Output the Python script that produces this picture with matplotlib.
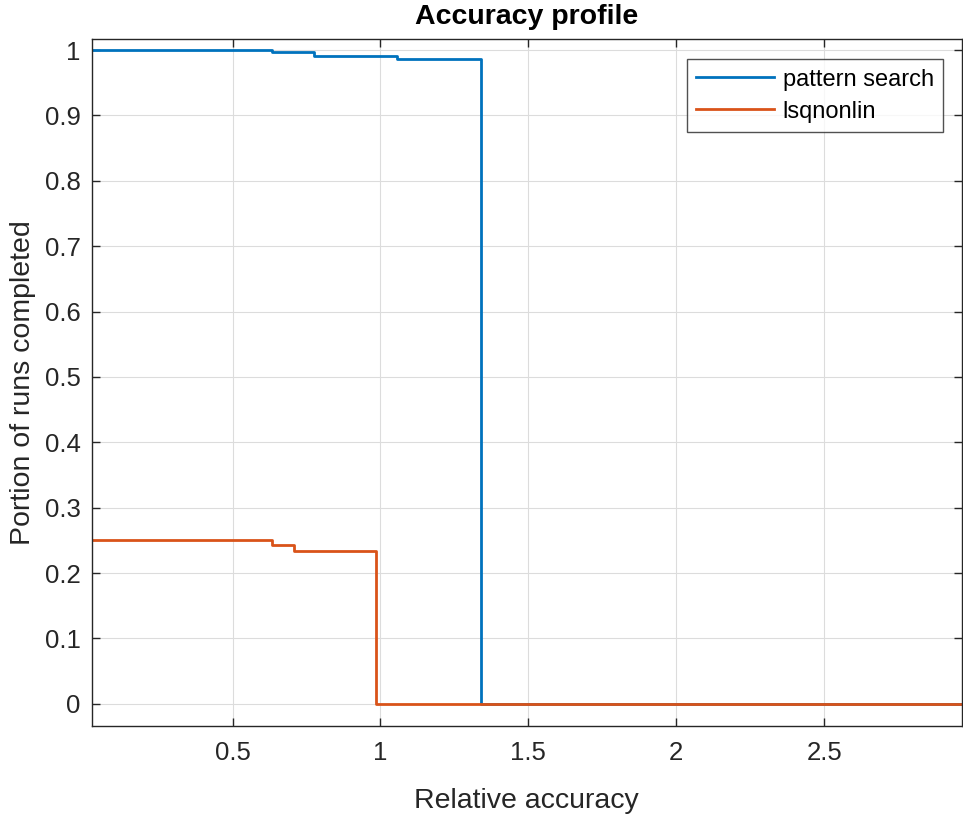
import matplotlib
matplotlib.use("Agg")
import matplotlib.pyplot as plt

# Data
ps_x = [0.024, 0.632, 0.776, 1.057, 1.341, 2.965]
ps_y = [1.0, 0.997, 0.991, 0.987, 0.0, 0.0]
lsq_x = [0.024, 0.634, 0.707, 0.986, 2.965]
lsq_y = [0.25, 0.243, 0.233, 0.0, 0.0]
series_names = ["pattern search", "lsqnonlin"]
x_ticks = [0.5, 1, 1.5, 2, 2.5]
x_tick_labels = ["0.5", "1", "1.5", "2", "2.5"]
y_ticks = [0, 0.1, 0.2, 0.3, 0.4, 0.5, 0.6, 0.7, 0.8, 0.9, 1]
y_tick_labels = ["0", "0.1", "0.2", "0.3", "0.4", "0.5", "0.6", "0.7", "0.8", "0.9", "1"]

plt.rcParams['font.family'] = ['Liberation Sans', 'DejaVu Sans']
axc = '#262626'

fig = plt.figure(figsize=(9.63, 8.14), dpi=100)
ax = fig.add_axes([91.7/963, 1-726/814, (961.7-91.7)/963, (726-39)/814])

ax.plot(ps_x, ps_y, drawstyle='steps-post', color='#0072BD', lw=2.0, label=series_names[0])
ax.plot(lsq_x, lsq_y, drawstyle='steps-post', color='#D95319', lw=2.0, label=series_names[1])

ax.set_xlim(0.024, 2.965)
ax.set_ylim(-0.034, 1.017)
ax.set_xticks(x_ticks)
ax.set_xticklabels(x_tick_labels)
ax.set_yticks(y_ticks)
ax.set_yticklabels(y_tick_labels)

ax.grid(True, color='#dcdcdc', lw=0.8)
ax.set_axisbelow(True)
for s in ax.spines.values():
    s.set_color(axc)
    s.set_linewidth(1.0)
ax.tick_params(direction='in', length=6, width=1.0, color=axc, labelcolor=axc,
               labelsize=18.5, top=True, right=True)
ax.tick_params(axis='y', pad=8)
ax.tick_params(axis='x', pad=11)

ax.set_title("Accuracy profile", fontsize=20.5, fontweight='bold', color='black', pad=11)
ax.set_xlabel("Relative accuracy", fontsize=20.5, color=axc, labelpad=16)
ax.set_ylabel("Portion of runs completed", fontsize=20.5, color=axc, labelpad=6)

leg = ax.legend(loc='upper left', bbox_to_anchor=(686.7/963, 1-59.3/814),
                bbox_transform=fig.transFigure, fontsize=17, frameon=True, fancybox=False,
                handlelength=3.3, handletextpad=0.37, labelspacing=0.42, borderpad=0.4,
                borderaxespad=0)
leg.get_frame().set_edgecolor(axc)
leg.get_frame().set_linewidth(1.0)
for t in leg.get_texts():
    t.set_color('#000000')

fig.savefig("out.png", dpi=100)
